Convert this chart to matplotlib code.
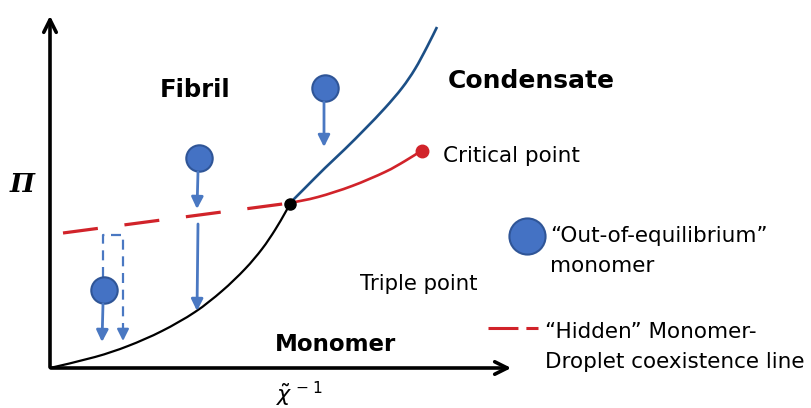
import matplotlib.pyplot as plt
from matplotlib.path import Path
from matplotlib.patches import PathPatch

# Schematic phase diagram, coordinates (pixels, y down)
FIBRIL_LINE_X = [50, 95, 128, 162, 195, 222, 245, 262, 275, 285, 290]
FIBRIL_LINE_Y = [368, 357, 346, 331, 312, 291, 269, 249, 230, 213, 204]

CONDENSATE_LINE_X = [290, 305, 325, 345, 365, 385, 402, 415, 427, 437]
CONDENSATE_LINE_Y = [203, 188, 168, 149, 129, 108, 88, 69, 47, 27]

COEX_LINE_X = [290, 318, 352, 385, 405, 421]
COEX_LINE_Y = [203, 197, 186, 172, 161, 151]

HIDDEN_LINE_X = [63, 290]
HIDDEN_LINE_Y = [233, 203]

TRIPLE_POINT = (290, 204)
CRITICAL_POINT = (422, 151)

MONOMER_X = [325, 199, 104]
MONOMER_Y = [88, 158, 290]

# solid arrows: (x0, y0, x1, y1)
ARROWS = [(324, 102, 324, 147), (198, 172, 197, 209), (198, 224, 197, 311), (103, 304, 102, 342)]
# dashed path, arrow head at the end
DASH_PATH_X = [103, 103, 123, 123]
DASH_PATH_Y = [277, 235, 235, 341]

BLUE = '#4a78c2'
DARK_BLUE = '#1c4f86'
RED = '#d1232a'


def smooth_line(ax, xs, ys, **kw):
    # catmull-rom through the points, as cubic bezier segments
    pts = list(zip(xs, ys))
    pts_ext = [pts[0]] + pts + [pts[-1]]
    verts = [pts[0]]
    codes = [Path.MOVETO]
    for i in range(1, len(pts_ext) - 2):
        p0, p1, p2, p3 = pts_ext[i - 1], pts_ext[i], pts_ext[i + 1], pts_ext[i + 2]
        c1 = (p1[0] + (p2[0] - p0[0]) / 6, p1[1] + (p2[1] - p0[1]) / 6)
        c2 = (p2[0] - (p3[0] - p1[0]) / 6, p2[1] - (p3[1] - p1[1]) / 6)
        verts += [c1, c2, p2]
        codes += [Path.CURVE4] * 3
    ax.add_patch(PathPatch(Path(verts, codes), fill=False, **kw))


fig = plt.figure(figsize=(8.12, 4.08), dpi=100)
ax = fig.add_axes([0, 0, 1, 1])
ax.set_xlim(0, 812)
ax.set_ylim(408, 0)
ax.axis('off')

# axes arrows
ax.annotate('', xy=(50, 13), xytext=(50, 370),
            arrowprops=dict(arrowstyle='->,head_length=0.9,head_width=0.45', lw=2.6, color='black'))
ax.annotate('', xy=(514, 368), xytext=(48, 368),
            arrowprops=dict(arrowstyle='->,head_length=0.9,head_width=0.45', lw=2.6, color='black'))

# phase lines
smooth_line(ax, FIBRIL_LINE_X, FIBRIL_LINE_Y, color='black', lw=1.6)
smooth_line(ax, CONDENSATE_LINE_X, CONDENSATE_LINE_Y, color=DARK_BLUE, lw=1.9)
smooth_line(ax, COEX_LINE_X, COEX_LINE_Y, color=RED, lw=1.9)
ax.plot(HIDDEN_LINE_X, HIDDEN_LINE_Y, color=RED, lw=2.3, dashes=(11.0, 8.4))
ax.plot(*TRIPLE_POINT, 'o', color='black', ms=8)
ax.plot(*CRITICAL_POINT, 'o', color=RED, ms=9)

# monomers and arrows
for x0, y0, x1, y1 in ARROWS:
    ax.annotate('', xy=(x1, y1), xytext=(x0, y0),
                arrowprops=dict(arrowstyle='-|>,head_length=0.7,head_width=0.35',
                                lw=2.0, color=BLUE, shrinkA=0, shrinkB=0))
ax.plot(DASH_PATH_X[:-1] + [DASH_PATH_X[-1]], DASH_PATH_Y[:-1] + [DASH_PATH_Y[-1] - 10],
        color=BLUE, lw=1.6, dashes=(4.5, 3))
ax.annotate('', xy=(DASH_PATH_X[-1], DASH_PATH_Y[-1]), xytext=(DASH_PATH_X[-1], DASH_PATH_Y[-1] - 12),
            arrowprops=dict(arrowstyle='-|>,head_length=0.7,head_width=0.35',
                            lw=1.6, color=BLUE, shrinkA=0, shrinkB=0))
ax.plot(MONOMER_X, MONOMER_Y, 'o', ls='none', ms=19, mfc='#4472c4', mec='#2f5597', mew=1.5)

# labels
ax.text(22, 185, 'Π', fontsize=19, family='DejaVu Serif', style='italic', weight='bold',
        ha='center', va='center')
ax.text(276, 402, r'$\tilde{\chi}^{\,-1}$', fontsize=16, ha='left', va='baseline')
ax.text(160, 97, 'Fibril', fontsize=17.5, weight='bold', va='baseline')
ax.text(448, 88, 'Condensate', fontsize=18, weight='bold', va='baseline')
ax.text(275, 351, 'Monomer', fontsize=16.5, weight='bold', va='baseline')
ax.text(443, 162, 'Critical point', fontsize=15.5, va='baseline')
ax.text(360, 290, 'Triple point', fontsize=15.3, va='baseline')

# legend
ax.plot(527, 236, 'o', ms=26, mfc='#4472c4', mec='#2f5597', mew=1.5)
ax.text(550, 242, '“Out-of-equilibrium”', fontsize=15.5, va='baseline')
ax.text(550, 272, 'monomer', fontsize=15.5, va='baseline')
ax.plot([488, 538], [328, 328], color=RED, lw=2.2, dashes=(9.8, 2.6))
ax.text(545, 338, '“Hidden” Monomer-', fontsize=15.5, va='baseline')
ax.text(545, 368, 'Droplet coexistence line', fontsize=15.5, va='baseline')

fig.savefig('out.png', dpi=100)
